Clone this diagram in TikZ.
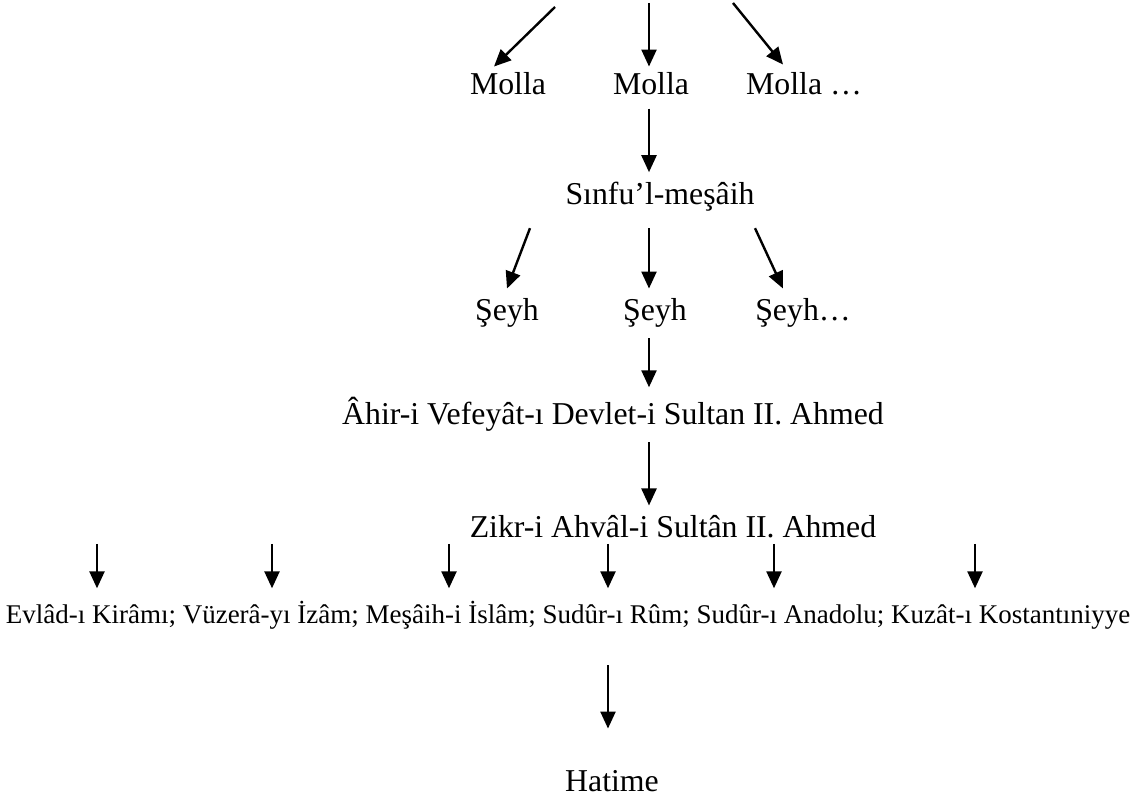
\documentclass[tikz,border=0pt]{standalone}
\usepackage{fontspec}
\setmainfont{Liberation Serif}
\usepackage{tikz}
\usetikzlibrary{positioning, arrows.meta}

\newcommand{\mainsz}{\fontsize{15.9}{19}\selectfont}
\newcommand{\rowsz}{\fontsize{13.5}{16}\selectfont}

\tikzset{
  lbl/.style={inner xsep=0pt, inner ysep=5pt, anchor=base, font=\mainsz},
  arr/.style={-{Triangle[length=8.5pt, width=7.5pt]}, line width=1.2pt}
}

\begin{document}
\begin{tikzpicture}[x=0.5pt, y=-0.5pt]
    \useasboundingbox (0,0) rectangle (1136,796);

    \node[lbl] (molla1) at (508,95) {Molla};
    \node[lbl] (molla2) at (651,95) {Molla};
    \node[lbl] (molla3) at (804,95) {Molla …};
    \node[lbl] (sinfu) at (660,205) {Sınfu’l-meşâih};
    \node[lbl] (seyh1) at (507,321) {Şeyh};
    \node[lbl] (seyh2) at (655,321) {Şeyh};
    \node[lbl] (seyh3) at (803,321) {Şeyh…};
    \node[lbl] (ahir) at (613,425) {Âhir-i Vefeyât-ı Devlet-i Sultan II. Ahmed};
    \node[lbl] (zikr) at (673,538) {Zikr-i Ahvâl-i Sultân II. Ahmed};
    \node[lbl, font=\rowsz, inner ysep=6.5pt] (row) at (568,624)
      {Evlâd-ı Kirâmı; Vüzerâ-yı İzâm; Meşâih-i İslâm; Sudûr-ı Rûm; Sudûr-ı Anadolu; Kuzât-ı Kostantıniyye};
    \node[lbl] (hatime) at (612,791) {Hatime};

    \coordinate (spine) at (649,0);
    \coordinate (foot) at (608,0);
    \coordinate (top1) at (555,7);
    \coordinate (top2) at (649,3);
    \coordinate (top3) at (733,3);

    \draw[arr] (top1) -- ([xshift=-7pt, yshift=-2pt]molla1.north);
    \draw[arr] (top2) -- ([yshift=-2pt]top2 |- molla2.north);
    \draw[arr] (top3) -- ([xshift=-10.5pt, yshift=-1pt]molla3.north);
    \draw[arr] ([yshift=-1.5pt]spine |- molla2.south) -- (spine |- sinfu.north);

    \draw[arr] ([xshift=-65pt, yshift=-3pt]sinfu.south) -- (seyh1.north);
    \draw[arr] ([yshift=-3pt]spine |- sinfu.south) -- (spine |- seyh2.north);
    \draw[arr] ([xshift=47.5pt, yshift=-3pt]sinfu.south) -- ([xshift=-10pt]seyh3.north);
    \draw[arr] (spine |- seyh2.south) -- (spine |- ahir.north);
    \draw[arr] (spine |- ahir.south) -- (spine |- zikr.north);

    \coordinate (s1) at (97,544);
    \coordinate (s2) at (272,544);
    \coordinate (s3) at (449,544);
    \coordinate (s4) at (608,544);
    \coordinate (s5) at (774,544);
    \coordinate (s6) at (975,544);
    \draw[arr] (s1) -- (s1 |- row.north);
    \draw[arr] (s2) -- (s2 |- row.north);
    \draw[arr] (s3) -- (s3 |- row.north);
    \draw[arr] (s4) -- (s4 |- row.north);
    \draw[arr] (s5) -- (s5 |- row.north);
    \draw[arr] (s6) -- (s6 |- row.north);

    \draw[arr, shorten <=11pt, shorten >=15.5pt] (foot |- row.south) -- (foot |- hatime.north);
\end{tikzpicture}
\end{document}
